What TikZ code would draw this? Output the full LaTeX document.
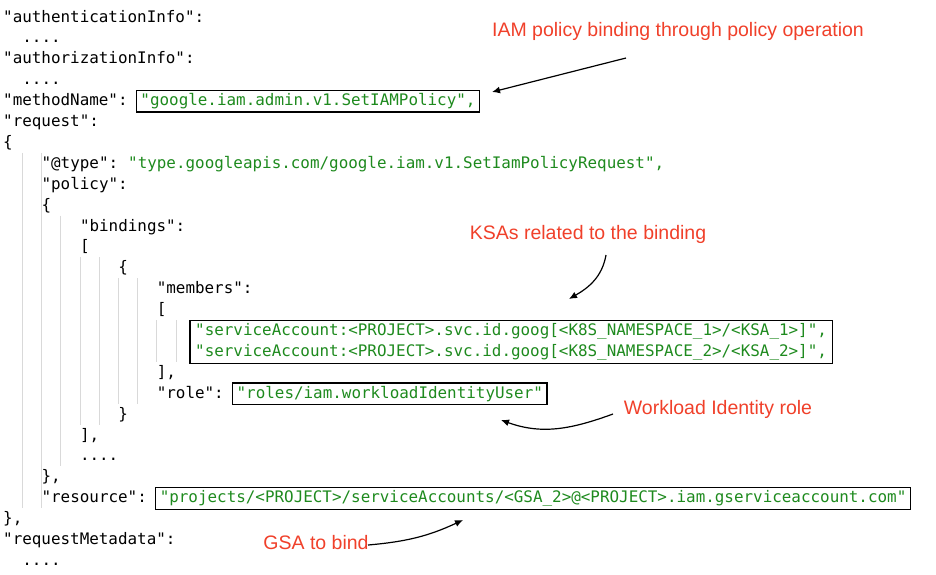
\documentclass[tikz,border=0pt]{standalone}
\usepackage{fontspec}
\setmainfont{Liberation Sans}
\setmonofont{DejaVu Sans Mono}
\usepackage{tikz}
\usetikzlibrary{arrows.meta,fit}
\definecolor{strgreen}{HTML}{1E8A1E}
\definecolor{notered}{HTML}{F0402A}
\tikzset{
  code/.style={inner sep=0pt, font=\fontsize{15.9}{19}\selectfont\ttfamily},
  val/.style={code, text=strgreen},
  box/.style={draw, line width=1.3pt, inner xsep=4pt, inner ysep=3pt},
  note/.style={text=notered, font=\fontsize{19.5}{22}\selectfont},
  guide/.style={gray!30, line width=0.5pt},
  pointer/.style={-{Latex[length=8pt,width=7pt]}, line width=1.2pt}
}
\newcommand{\jline}[4] {\node (#3) [code, anchor=base west] at ({3+9.6*#2}, {22+20.9*#1}) {#4};}
\newcommand{\jval}[3] {\node (#2) [val, anchor=base west] at ([xshift=9.6pt]#1.base east) {#3};}
\newcommand{\jboxval}[3] {\node (#2) [val, box, anchor=base west] at ([xshift=8pt]#1.base east) {#3};}

\begin{document}
\begin{tikzpicture}[x=1pt, y=-1pt]
\useasboundingbox (0,0) rectangle (936,574);

% indentation guides
\foreach \r/\c in {7/4,8/4,9/4,10/8,11/8,12/12,13/16,14/16,15/20,16/20,17/16,18/16,19/12,20/8,21/8,22/4,23/4} {
  \pgfmathtruncatemacro{\last}{\c-2}
  \foreach \g in {2,4,...,\last} {
    \ifnum\g>1 \draw [guide] ({3+9.6*\g}, {17+20.9*\r-10.5}) -- ++(0,20.9); \fi
  }
}

\jline {0}{0}{authn}{"authenticationInfo":};
\jline {1}{2}{authnd}{....};
\jline {2}{0}{authz}{"authorizationInfo":};
\jline {3}{2}{authzd}{....};
\jline {4}{0}{method}{"methodName":};
\jboxval {method}{methodval}{"google.iam.admin.v1.SetIAMPolicy",};
\jline {5}{0}{request}{"request":};
\jline {6}{0}{reqopen}{\{};
\jline {7}{4}{type}{"@type":};
\jval {type}{typeval}{"type.googleapis.com/google.iam.v1.SetIamPolicyRequest",};
\jline {8}{4}{policy}{"policy":};
\jline {9}{4}{polopen}{\{};
\jline {10}{8}{bindings}{"bindings":};
\jline {11}{8}{bindopen}{[};
\jline {12}{12}{bindobj}{\{};
\jline {13}{16}{members}{"members":};
\jline {14}{16}{memopen}{[};
\node (sa1) [val, anchor=base west] at ({3+9.6*20}, {22+20.9*15}) {"serviceAccount:<PROJECT>.svc.id.goog[<K8S\_NAMESPACE\_1>/<KSA\_1>]",};
\node (sa2) [val, anchor=base west] at ({3+9.6*20}, {22+20.9*16}) {"serviceAccount:<PROJECT>.svc.id.goog[<K8S\_NAMESPACE\_2>/<KSA\_2>]",};
\node (membox) [box, inner xsep=5pt, fit=(sa1)(sa2)] {};
\jline {17}{16}{memclose}{],};
\jline {18}{16}{role}{"role":};
\jboxval {role}{roleval}{"roles/iam.workloadIdentityUser"};
\jline {19}{12}{bindobjclose}{\}};
\jline {20}{8}{bindclose}{],};
\jline {21}{8}{binddots}{....};
\jline {22}{4}{polclose}{\},};
\jline {23}{4}{resource}{"resource":};
\jboxval {resource}{resval}{"projects/<PROJECT>/serviceAccounts/<GSA\_2>@<PROJECT>.iam.gserviceaccount.com"};
\jline {24}{0}{reqclose}{\},};
\jline {25}{0}{meta}{"requestMetadata":};
\jline {26}{2}{metadots}{....};

% annotations
\node (iamnote) [note] at (678,31) {IAM policy binding through policy operation};
\node (ksanote) [note] at (588,234) {KSAs related to the binding};
\node (rolenote) [note] at (718,409) {Workload Identity role};
\node (gsanote) [note] at (316,543) {GSA to bind};

\coordinate (iamtail) at (626,58);
\coordinate (iamhead) at (492,92);
\coordinate (ksatail) at (606,255);
\coordinate (ksahead) at (569,299);
\coordinate (roletail) at (613,414);
\coordinate (rolehead) at (501,420);
\coordinate (gsatail) at (368,545);
\coordinate (gsahead) at (463,520);

\draw [pointer] (iamtail) -- (iamhead);
\draw [pointer] (ksatail) to[out=-100, in=30] (ksahead);
\draw [pointer] (roletail) to[out=200, in=-20] (rolehead);
\draw [pointer] (gsatail) to[out=5, in=205] (gsahead);

\end{tikzpicture}
\end{document}
